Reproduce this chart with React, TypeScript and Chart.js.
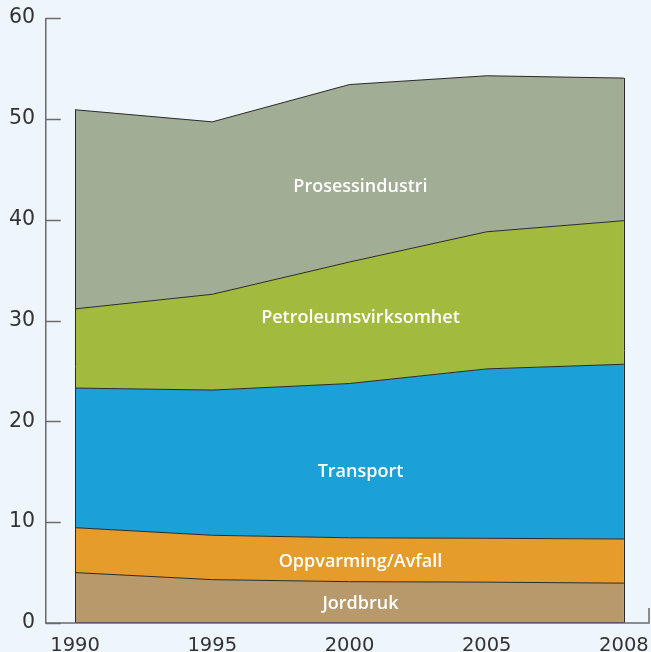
import React, { useEffect, useRef } from "react";
import { Chart, registerables } from "chart.js";

Chart.register(...registerables);

const years = ["1990", "1995", "2000", "2005", "2008"];
const jordbruk = [5.0, 4.3, 4.1, 4.05, 3.95];
const oppvarming = [4.45, 4.4, 4.35, 4.35, 4.38];
const transport = [13.85, 14.4, 15.3, 16.8, 17.33];
const petroleum = [7.85, 9.5, 12.05, 13.6, 14.24];
const prosess = [19.75, 17.1, 17.6, 15.47, 14.14];
const yTicks = [0, 10, 20, 30, 40, 50, 60];

const seriesNames = ["Jordbruk", "Oppvarming/Avfall", "Transport", "Petroleumsvirksomhet", "Prosessindustri"];
const seriesColors = ["#B8996B", "#E59C2A", "#1BA1D8", "#A2BB3E", "#A2AD95"];
const labelAt = [1.85, 6.1, 15.0, 30.25, 43.3];

const BG = "#EEF5FB";
const AXIS = "#6B6B6B";

export default function App() {
  const ref = useRef<HTMLCanvasElement | null>(null);
  useEffect(() => {
    document.body.style.margin = "0";
    document.body.style.background = BG;
    const all = [jordbruk, oppvarming, transport, petroleum, prosess];
    const datasets = all.map((arr, i) => ({
      label: seriesNames[i],
      data: arr.map((v, j) => ({ x: j, y: v })),
      backgroundColor: seriesColors[i],
      borderColor: "#2a2a2a",
      borderWidth: 1,
      pointRadius: 0,
      tension: 0,
      fill: i === 0 ? "origin" : "-1",
    }));

    const overlay = {
      id: "overlay",
      beforeDraw(chart: any) {
        const c = chart.ctx;
        c.save();
        c.fillStyle = BG;
        c.fillRect(0, 0, chart.width, chart.height);
        c.restore();
      },
      afterDatasetsDraw(chart: any) {
        const c = chart.ctx;
        const xs = chart.scales.x;
        const ys = chart.scales.y;
        const area = chart.chartArea;
        c.save();
        const n = years.length;
        const totals = years.map((_, j) => all.reduce((s, a) => s + a[j], 0));
        c.strokeStyle = "#2a2a2a";
        c.lineWidth = 1;
        [0, n - 1].forEach((j) => {
          const px = Math.round(xs.getPixelForValue(j)) + 0.5;
          c.beginPath();
          c.moveTo(px, ys.getPixelForValue(0));
          c.lineTo(px, ys.getPixelForValue(totals[j]));
          c.stroke();
        });
        c.beginPath();
        c.moveTo(xs.getPixelForValue(0), ys.getPixelForValue(0) - 0.5);
        c.lineTo(xs.getPixelForValue(n - 1), ys.getPixelForValue(0) - 0.5);
        c.stroke();

        c.strokeStyle = AXIS;
        c.lineWidth = 1.5;
        const left = area.left + 0.75;
        const bottom = ys.getPixelForValue(0);
        c.beginPath();
        c.moveTo(left, ys.getPixelForValue(60));
        c.lineTo(left, bottom);
        c.lineTo(area.right - 1, bottom);
        c.lineTo(area.right - 1, bottom - 15);
        c.stroke();
        yTicks.forEach((t) => {
          const py = Math.round(ys.getPixelForValue(t)) + 0.5;
          c.beginPath();
          c.moveTo(left, py);
          c.lineTo(left + 15, py);
          c.stroke();
        });

        c.fillStyle = "#ffffff";
        c.font = "600 18px 'Open Sans'";
        c.textAlign = "center";
        c.textBaseline = "middle";
        seriesNames.forEach((name, i) => {
          c.fillText(name, xs.getPixelForValue(2.08), ys.getPixelForValue(labelAt[i]));
        });
        c.restore();
      },
    };

    const chart = new Chart(ref.current as HTMLCanvasElement, {
      type: "line",
      data: { datasets: datasets as any },
      options: {
        animation: false,
        responsive: false,
        layout: { padding: { top: 18, right: 1, left: 0, bottom: 0 } },
        plugins: { legend: { display: false }, tooltip: { enabled: false } },
        scales: {
          x: {
            type: "linear",
            min: -0.219,
            max: 4.19,
            grid: { display: false, drawTicks: false },
            border: { display: false },
            afterFit: (s: any) => { s.height = 29; s.paddingRight = 0; s.paddingLeft = 0; },
            afterBuildTicks: (s: any) => { s.ticks = years.map((_, j) => ({ value: j })); },
            ticks: {
              autoSkip: false,
              maxRotation: 0,
              padding: 11,
              color: "#333333",
              font: { family: "'DejaVu Sans'", size: 19.5 },
              callback: (v: any) => years[v] ?? "",
            },
          },
          y: {
            stacked: true,
            min: 0,
            max: 60,
            grid: { display: false, drawTicks: false },
            border: { display: false },
            afterFit: (s: any) => { s.width = 45; s.paddingTop = 0; s.paddingBottom = 0; },
            afterBuildTicks: (s: any) => { s.ticks = yTicks.map((v) => ({ value: v })); },
            ticks: {
              padding: 10,
              color: "#333333",
              font: { family: "'DejaVu Sans'", size: 20.5 },
            },
          },
        },
      },
      plugins: [overlay],
    });
    return () => chart.destroy();
  }, []);
  return <canvas ref={ref} width={651} height={652} style={{ display: "block" }} />;
}
